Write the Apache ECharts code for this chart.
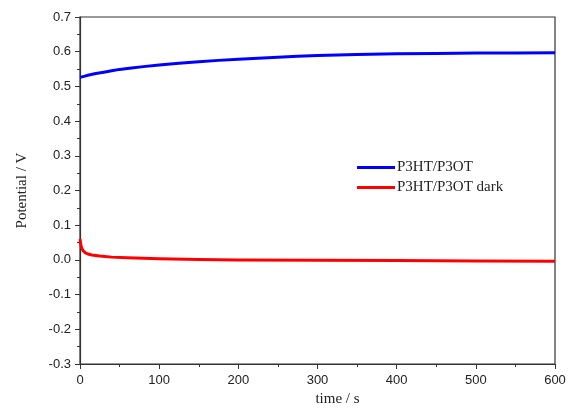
<!DOCTYPE html>
<html>
<head>
<meta charset="utf-8">
<script src="https://cdn.jsdelivr.net/npm/echarts@6/dist/echarts.min.js"></script>
<style>html,body{margin:0;padding:0;background:#fff}#c{width:579px;height:412px}</style>
</head>
<body>
<div id="c"></div>
<script>
const lightTimes = [0, 5, 10, 20, 30, 40, 50, 65, 80, 100, 125, 150, 175, 200, 225, 250, 275, 300, 350, 400, 450, 500, 550, 600];
const lightValues = [0.526, 0.529, 0.532, 0.537, 0.541, 0.545, 0.549, 0.553, 0.557, 0.562, 0.567, 0.571, 0.575, 0.578, 0.581, 0.584, 0.587, 0.589, 0.592, 0.594, 0.595, 0.596, 0.596, 0.597];
const darkTimes = [0, 1, 2, 4, 7, 10, 15, 25, 40, 60, 100, 150, 200, 300, 400, 500, 600];
const darkValues = [0.060, 0.045, 0.035, 0.026, 0.020, 0.017, 0.014, 0.011, 0.008, 0.006, 0.003, 0.001, 0.000, -0.001, -0.002, -0.003, -0.004];
const seriesNames = ['P3HT/P3OT', 'P3HT/P3OT dark'];

const chart = echarts.init(document.getElementById('c'), null, {renderer: 'canvas'});
const axisCol = '#333';
chart.setOption({
  animation: false,
  backgroundColor: '#fff',
  grid: {left: 80, right: 24, top: 17, bottom: 45, show: true, borderColor: axisCol, borderWidth: 1.2, backgroundColor: 'transparent'},
  legend: {
    left: 352, top: 155, orient: 'vertical', itemGap: 5,
    icon: 'rect', itemWidth: 38, itemHeight: 3,
    textStyle: {fontFamily: 'Liberation Serif', fontSize: 15, color: '#222', padding: [0,0,0,-3]},
    data: seriesNames
  },
  xAxis: {
    type: 'value', min: 0, max: 600, interval: 100,
    name: 'time / s', nameLocation: 'middle', nameGap: 28,
    nameTextStyle: {fontFamily: 'Liberation Serif', fontSize: 15, color: '#222', padding: [0,0,0,40]},
    axisLine: {show: true, onZero: false, lineStyle: {color: axisCol, width: 1.2}},
    axisTick: {show: true, inside: false, length: 5, lineStyle: {color: axisCol}},
    minorTick: {show: true, splitNumber: 2, length: 3, lineStyle: {color: axisCol}},
    splitLine: {show: false},
    axisLabel: {fontFamily: 'Liberation Sans', fontSize: 13, color: '#222', margin: 10}
  },
  yAxis: {
    type: 'value', min: -0.3, max: 0.7, interval: 0.1,
    name: 'Potential / V', nameLocation: 'middle', nameGap: 50,
    nameTextStyle: {fontFamily: 'Liberation Serif', fontSize: 15, color: '#222'},
    axisLine: {show: true, onZero: false, lineStyle: {color: axisCol, width: 1.2}},
    axisTick: {show: true, inside: false, length: 5, lineStyle: {color: axisCol}},
    minorTick: {show: true, splitNumber: 2, length: 3, lineStyle: {color: axisCol}},
    splitLine: {show: false},
    axisLabel: {fontFamily: 'Liberation Sans', fontSize: 13, color: '#222', margin: 9,
      formatter: v => { let r = Math.round(v * 10) / 10; if (Math.abs(r) < 1e-9) r = 0; return r.toFixed(1); }}
  },
  series: [
    {name: seriesNames[0], type: 'line', symbol: 'none', smooth: false,
     color: '#0000ff', lineStyle: {width: 3, color: '#0000ff', join: 'round'},
     data: lightTimes.map((t, i) => [t, lightValues[i]])},
    {name: seriesNames[1], type: 'line', symbol: 'none', smooth: false,
     color: '#ff0000', lineStyle: {width: 3, color: '#ff0000', join: 'round'},
     data: darkTimes.map((t, i) => [t, darkValues[i]])}
  ]
});
</script>
</body>
</html>
